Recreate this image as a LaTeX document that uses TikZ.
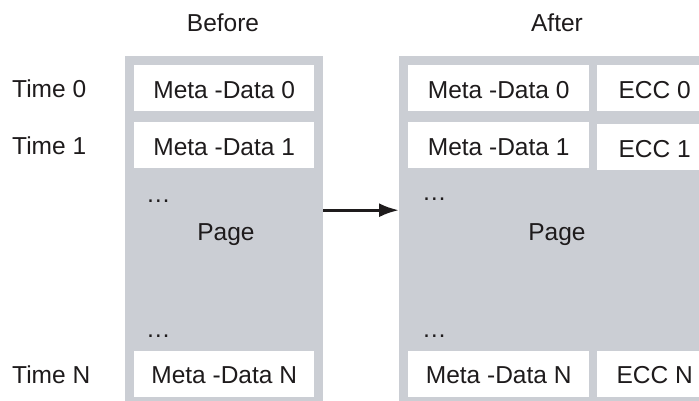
\documentclass[tikz,border=0pt]{standalone}
\usepackage{fontspec}
\setmainfont{Liberation Sans}
\usetikzlibrary{arrows.meta}
\definecolor{pagegray}{RGB}{203,206,212}
\definecolor{ink}{RGB}{30,27,28}
\begin{document}
\begin{tikzpicture}[x=1pt,y=-1pt,
  font=\fontsize{24.5}{29}\selectfont, text=ink,
  pagebox/.style={fill=pagegray, draw=none, inner sep=0pt, anchor=north west, minimum height=345pt},
  cellbox/.style={fill=white, draw=none, inner sep=0pt, anchor=north west, minimum height=46pt, text height=20pt, text depth=0pt},
  lbl/.style={inner sep=0pt, anchor=base},
  lblw/.style={inner sep=0pt, anchor=base west},
  flow/.style={draw=ink, line width=3pt, -{Latex[length=20pt,width=14pt]}}]
\useasboundingbox (0,0) rectangle (699,401);
\clip (0,0) rectangle (699,401);
% page frames
\node[pagebox, minimum width=198pt] (before) at (125,56) {};
\node[pagebox, minimum width=330pt] (after) at (399,56) {};
% headings
\node[lbl] (hbefore) at (223,31.5) {Before};
\node[lbl] (hafter) at (557,31.5) {After};
% time labels
\node[lblw] (t0) at (12,98) {Time 0};
\node[lblw] (t1) at (12,155) {Time 1};
\node[lblw] (tn) at (12,383.5) {Time N};
% before cells
\node[cellbox, minimum width=180pt] (bm0) at (134,65) {Meta -Data 0};
\node[cellbox, minimum width=180pt] (bm1) at (134,122) {Meta -Data 1};
\node[cellbox, minimum width=180pt] (bmn) at (134,350.5) {Meta -Data N};
\node[lblw] (bd1) at (146,202.5) {…};
\node[lbl] (bpage) at (226,240) {Page};
\node[lblw] (bd2) at (146,337) {…};
% after cells
\node[cellbox, minimum width=181pt] (am0) at (408,65) {Meta -Data 0};
\node[cellbox, minimum width=181pt] (am1) at (408,122) {Meta -Data 1};
\node[cellbox, minimum width=181pt] (amn) at (408,350.5) {Meta -Data N};
\node[cellbox, minimum width=115pt] (ae0) at (597,65) {ECC 0};
\node[cellbox, minimum width=115pt] (ae1) at (597,124) {ECC 1};
\node[cellbox, minimum width=115pt] (aen) at (597,350.5) {ECC N};
\node[lblw] (ad1) at (422,200.5) {…};
\node[lbl] (apage) at (557,240) {Page};
\node[lblw] (ad2) at (422,337) {…};
% arrow
\draw[flow] ([yshift=18.5pt]before.east) -- ([yshift=18.5pt]after.west);
\end{tikzpicture}
\end{document}
